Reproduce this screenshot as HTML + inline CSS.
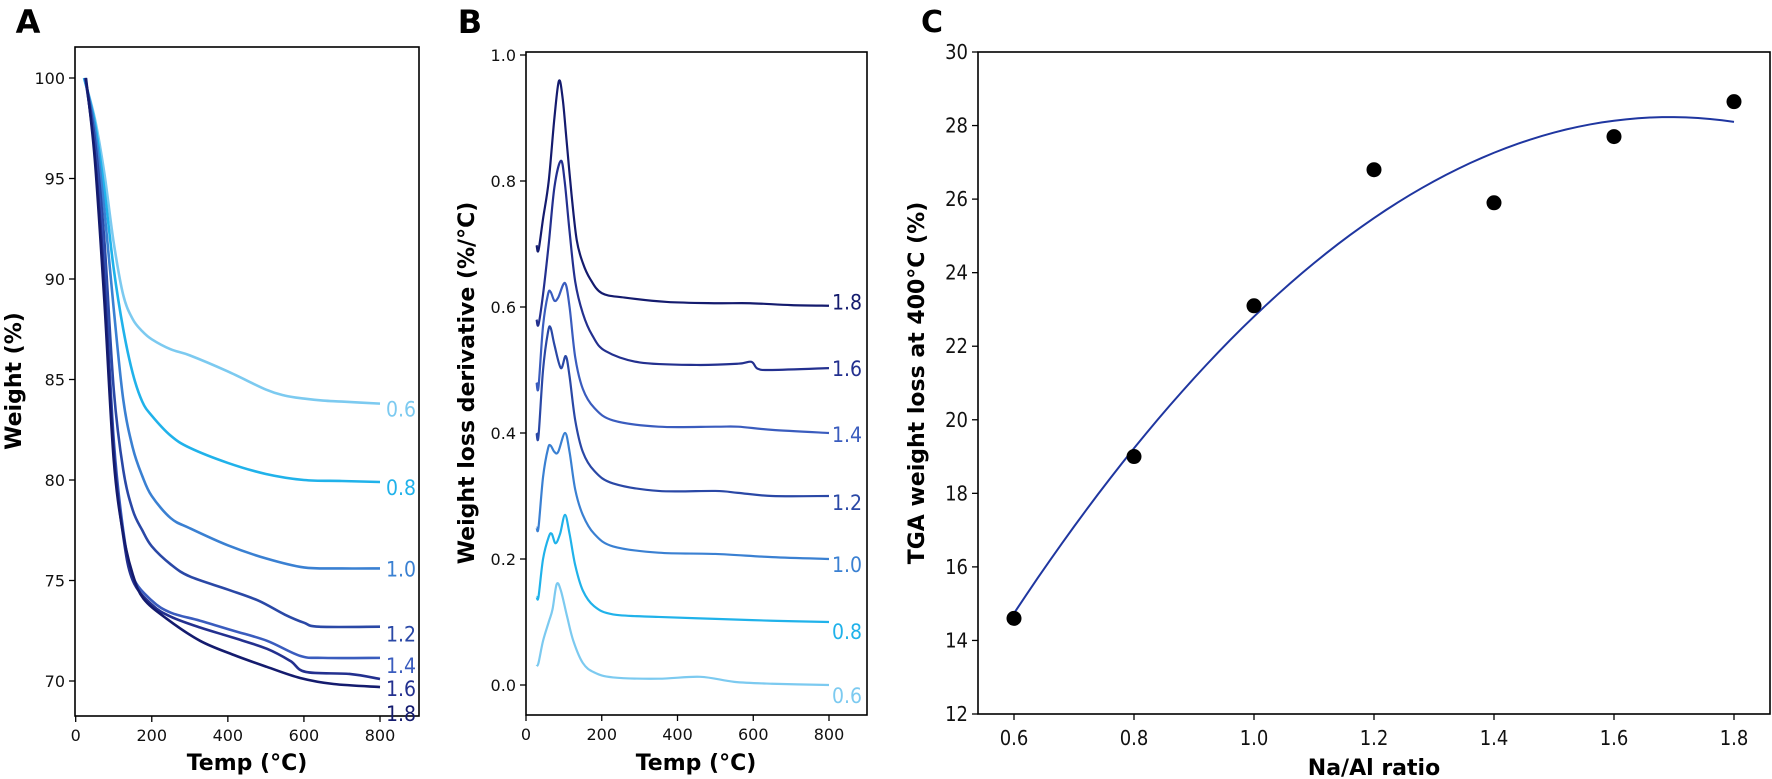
<!DOCTYPE html>
<html><head><meta charset="utf-8"><style>
html,body{margin:0;padding:0;background:#fff;}
svg{display:block;font-family:"DejaVu Sans","Liberation Sans",sans-serif;}
.tick{font-size:16px;fill:#111;}
.tickc{font-size:20px;fill:#111;font-family:"Liberation Sans Narrow","DejaVu Sans Condensed","Liberation Sans",sans-serif;}
.ax{font-weight:bold;font-size:22px;fill:#000;}
.lbl{font-size:21px;font-family:"DejaVu Sans Condensed","Liberation Sans Narrow","Liberation Sans",sans-serif;}
</style></head><body>
<svg id="fig" width="1772" height="779" viewBox="0 0 1772 779" xmlns="http://www.w3.org/2000/svg"></svg>
<script>
// ---------- DATA ----------
const ratios = ["0.6","0.8","1.0","1.2","1.4","1.6","1.8"];
const colors = ["#7ccaf0","#20b2ea","#3a80d2","#2a48a6","#3a5cbe","#23308f","#141b6e"];
// Panel A: weight (%) vs temperature
const tgaA06 = [[22,100],[50,98],[75,95.3],[100,91.8],[125,89.2],[150,88.0],[175,87.4],[200,87.0],[250,86.5],[300,86.2],[400,85.4],[500,84.5],[550,84.2],[600,84.05],[650,83.95],[700,83.9],[800,83.8]];
const tgaA08 = [[22,100],[50,97.8],[75,94.5],[100,90.5],[125,87.5],[150,85.3],[175,83.9],[200,83.2],[250,82.2],[300,81.6],[400,80.85],[500,80.3],[600,80.0],[700,79.95],[800,79.9]];
const tgaA10 = [[24,100],[50,97.5],[75,93.5],[100,88.5],[125,84.0],[150,81.6],[175,80.2],[200,79.2],[250,78.1],[300,77.6],[400,76.75],[500,76.1],[600,75.65],[700,75.6],[800,75.6]];
const tgaA12 = [[25,100],[50,97],[75,92.0],[100,84.5],[125,80.5],[150,78.5],[175,77.5],[200,76.7],[250,75.8],[300,75.2],[400,74.55],[480,74.0],[550,73.3],[600,72.9],[640,72.7],[800,72.7]];
const tgaA14 = [[25,100],[50,96.5],[75,90.5],[100,82.0],[125,77.5],[150,75.2],[200,74.0],[250,73.4],[327,73.0],[415,72.5],[503,72.0],[590,71.25],[650,71.15],[800,71.15]];
const tgaA16 = [[26,100],[50,96.3],[75,90.0],[100,81.5],[125,77.2],[150,75.0],[200,73.8],[250,73.2],[327,72.66],[415,72.15],[503,71.6],[564,71.0],[605,70.45],[720,70.35],[800,70.1]];
const tgaA18 = [[27,100],[50,96],[75,89],[100,81],[125,77.3],[150,75.3],[178,74.1],[239,73.1],[327,72.0],[415,71.3],[503,70.7],[590,70.15],[678,69.85],[800,69.7]];
const tgaA = [tgaA06,tgaA08,tgaA10,tgaA12,tgaA14,tgaA16,tgaA18];
const ticksAx = [0,200,400,600,800];
const ticksAy = [70,75,80,85,90,95,100];
// Panel B: derivative vs temperature
const dtgB06 = [[28,0.03],[33,0.035],[45,0.07],[60,0.10],[70,0.12],[81,0.16],[92,0.15],[108,0.11],[125,0.07],[150,0.035],[180,0.02],[230,0.012],[350,0.01],[460,0.013],[550,0.005],[650,0.002],[800,0.0]];
const dtgB08 = [[28,0.14],[33,0.14],[45,0.20],[60,0.235],[68,0.24],[78,0.225],[90,0.24],[103,0.27],[115,0.24],[130,0.19],[150,0.15],[180,0.125],[230,0.112],[350,0.108],[500,0.105],[650,0.102],[800,0.10]];
const dtgB10 = [[28,0.25],[33,0.25],[45,0.33],[58,0.375],[65,0.38],[75,0.37],[85,0.37],[103,0.40],[115,0.37],[130,0.31],[150,0.27],[180,0.24],[230,0.22],[350,0.21],[500,0.208],[650,0.203],[800,0.20]];
const dtgB12 = [[28,0.40],[33,0.395],[45,0.50],[58,0.56],[65,0.567],[75,0.54],[92,0.503],[105,0.522],[115,0.49],[130,0.42],[150,0.37],[180,0.34],[230,0.32],[350,0.308],[500,0.308],[560,0.305],[650,0.30],[800,0.30]];
const dtgB14 = [[28,0.48],[33,0.473],[45,0.57],[58,0.62],[65,0.624],[75,0.61],[85,0.615],[103,0.638],[115,0.60],[130,0.52],[150,0.47],[180,0.44],[230,0.42],[350,0.41],[500,0.41],[560,0.41],[650,0.405],[800,0.40]];
const dtgB16 = [[28,0.58],[33,0.572],[45,0.62],[60,0.70],[75,0.79],[92,0.832],[102,0.80],[115,0.72],[130,0.64],[150,0.59],[175,0.555],[210,0.53],[300,0.512],[450,0.508],[560,0.51],[595,0.513],[612,0.502],[650,0.5],[800,0.503]];
const dtgB18 = [[28,0.698],[33,0.69],[45,0.74],[60,0.80],[75,0.90],[87,0.959],[97,0.93],[107,0.865],[120,0.78],[134,0.706],[150,0.67],[169,0.645],[200,0.622],[260,0.615],[372,0.608],[500,0.606],[592,0.606],[700,0.603],[800,0.602]];
const dtgB = [dtgB06,dtgB08,dtgB10,dtgB12,dtgB14,dtgB16,dtgB18];
const ticksBx = [0,200,400,600,800];
const ticksBy = [0.0,0.2,0.4,0.6,0.8,1.0];
// Panel C: weight loss at 400C vs Na/Al ratio
const naAl = [0.6,0.8,1.0,1.2,1.4,1.6,1.8];
const lossC = [14.6,19.0,23.1,26.8,25.9,27.7,28.65];
const ticksCx = [0.6,0.8,1.0,1.2,1.4,1.6,1.8];
const ticksCy = [12,14,16,18,20,22,24,26,28,30];

// ---------- LAYOUT ----------
const NS="http://www.w3.org/2000/svg";
const svg=document.getElementById('fig');
function mk(tag,attrs,parent){const e=document.createElementNS(NS,tag);for(const k in attrs)e.setAttribute(k,attrs[k]);(parent||svg).appendChild(e);return e;}
function lin(d0,d1,r0,r1){return v=>r0+(v-d0)*(r1-r0)/(d1-d0);}
function smooth(pts){let d="M"+pts[0][0].toFixed(2)+","+pts[0][1].toFixed(2);
 for(let i=0;i<pts.length-1;i++){const p0=pts[Math.max(0,i-1)],p1=pts[i],p2=pts[i+1],p3=pts[Math.min(pts.length-1,i+2)];
  const c1=[p1[0]+(p2[0]-p0[0])/6,p1[1]+(p2[1]-p0[1])/6],c2=[p2[0]-(p3[0]-p1[0])/6,p2[1]-(p3[1]-p1[1])/6];
  d+=" C"+c1.map(v=>v.toFixed(2))+" "+c2.map(v=>v.toFixed(2))+" "+p2.map(v=>v.toFixed(2));}
 return d;}
function frame(x0,y0,x1,y1,name){const r=mk('rect',{x:x0,y:y0,width:x1-x0,height:y1-y0,fill:'none',stroke:'#000','stroke-width':1.6});
 
 }
function text(x,y,s,cls,anchor,name,extra){const t=mk('text',Object.assign({x:x,y:y,'class':cls,'text-anchor':anchor||'middle'},extra||{}));t.textContent=s;
 
 return t;}

// Panel A
const A={x0:75,x1:419,y0:47,y1:716};
const axA=lin(0,800,75.7,380), ayA=lin(70,100,681,78);
frame(A.x0,A.y0,A.x1,A.y1,'panel-a-frame');
text(28,33,'A','ax','middle','panel-a-letter',{style:'font-size:32px'});
ticksAx.forEach(v=>{mk('line',{x1:axA(v),x2:axA(v),y1:A.y1,y2:A.y1+6,stroke:'#000','stroke-width':1.3});text(axA(v),A.y1+25,String(v),'tick','middle','a-x-tick-label');});
ticksAy.forEach(v=>{mk('line',{x1:A.x0-6,x2:A.x0,y1:ayA(v),y2:ayA(v),stroke:'#000','stroke-width':1.3});text(A.x0-10,ayA(v)+6,String(v),'tick','end','a-y-tick-label');});
text(247,770,'Temp (°C)','ax','middle','a-x-axis-title');
text(0,0,'Weight (%)','ax','middle','a-y-axis-title',{transform:'translate(21,381) rotate(-90)'});
const labADy=[5,5,0,7,7,9,26];
tgaA.forEach((s,i)=>{const p=mk('path',{d:smooth(s.map(q=>[axA(q[0]),ayA(q[1])])),fill:'none',stroke:colors[i],'stroke-width':2.6});
 
 
 const e=s[s.length-1];text(axA(e[0])+6,ayA(e[1])+labADy[i]+8,ratios[i],'lbl','start','a-curve-label-'+ratios[i],{fill:colors[i]});});

// Panel B
const B={x0:526,x1:867,y0:52,y1:715};
const axB=lin(0,800,526,829), ayB=lin(0,1,685,55);
frame(B.x0,B.y0,B.x1,B.y1,'panel-b-frame');
text(470,33,'B','ax','middle','panel-b-letter',{style:'font-size:32px'});
ticksBx.forEach(v=>{mk('line',{x1:axB(v),x2:axB(v),y1:B.y1,y2:B.y1+6,stroke:'#000','stroke-width':1.3});text(axB(v),B.y1+25,String(v),'tick','middle','b-x-tick-label');});
ticksBy.forEach(v=>{mk('line',{x1:B.x0-6,x2:B.x0,y1:ayB(v),y2:ayB(v),stroke:'#000','stroke-width':1.3});text(B.x0-10,ayB(v)+6,v.toFixed(1),'tick','end','b-y-tick-label');});
text(696,770,'Temp (°C)','ax','middle','b-x-axis-title');
text(0,0,'Weight loss derivative (%/°C)','ax','middle','b-y-axis-title',{transform:'translate(474,383) rotate(-90)'});
const labBDy=[11,10,6,7,2,1,-3];
dtgB.forEach((s,i)=>{const p=mk('path',{d:smooth(s.map(q=>[axB(q[0]),ayB(q[1])])),fill:'none',stroke:colors[i],'stroke-width':2.2});
 
 
 const e=s[s.length-1];text(axB(e[0])+3,ayB(e[1])+labBDy[i]+7,ratios[i],'lbl','start','b-curve-label-'+ratios[i],{fill:colors[i]});});

// Panel C
const C={x0:978,x1:1770,y0:52,y1:714};
const axC=lin(0.6,1.8,1014,1734), ayC=lin(12,30,714,52);
frame(C.x0,C.y0,C.x1,C.y1,'panel-c-frame');
text(932,32,'C','ax','middle','panel-c-letter',{style:'font-size:30px'});
ticksCx.forEach(v=>{mk('line',{x1:axC(v),x2:axC(v),y1:C.y1,y2:C.y1+6,stroke:'#000','stroke-width':1.3});text(axC(v),C.y1+31,v.toFixed(1),'tickc','middle','c-x-tick-label');});
ticksCy.forEach(v=>{mk('line',{x1:C.x0-6,x2:C.x0,y1:ayC(v),y2:ayC(v),stroke:'#000','stroke-width':1.3});text(C.x0-10,ayC(v)+7,String(v),'tickc','end','c-y-tick-label');});
text(1374,775,'Na/Al ratio','ax','middle','c-x-axis-title');
text(0,0,'TGA weight loss at 400°C (%)','ax','middle','c-y-axis-title',{transform:'translate(924,383) rotate(-90)'});
// quadratic least-squares fit of data
(function(){let n=naAl.length,S=[0,0,0,0,0],T=[0,0,0];
 for(let i=0;i<n;i++){const x=naAl[i],y=lossC[i];for(let k=0;k<5;k++)S[k]+=Math.pow(x,k);for(let k=0;k<3;k++)T[k]+=y*Math.pow(x,k);}
 const M=[[S[0],S[1],S[2],T[0]],[S[1],S[2],S[3],T[1]],[S[2],S[3],S[4],T[2]]];
 for(let i=0;i<3;i++){for(let j=i+1;j<3;j++){const f=M[j][i]/M[i][i];for(let k=i;k<4;k++)M[j][k]-=f*M[i][k];}}
 const c=[0,0,0];for(let i=2;i>=0;i--){let s=M[i][3];for(let k=i+1;k<3;k++)s-=M[i][k]*c[k];c[i]=s/M[i][i];}
 const pts=[];const xa=naAl[0],xb=naAl[n-1];for(let k=0;k<=60;k++){const x=xa+(xb-xa)*k/60;pts.push(axC(x).toFixed(2)+','+ayC(c[0]+c[1]*x+c[2]*x*x).toFixed(2));}
 const p=mk('polyline',{points:pts.join(' '),fill:'none',stroke:'#1f36a0','stroke-width':2});
 
 
})();
naAl.forEach((x,i)=>{const c=mk('circle',{cx:axC(x),cy:ayC(lossC[i]),r:7.5,fill:'#000'});
 
 });
</script>
</body></html>
